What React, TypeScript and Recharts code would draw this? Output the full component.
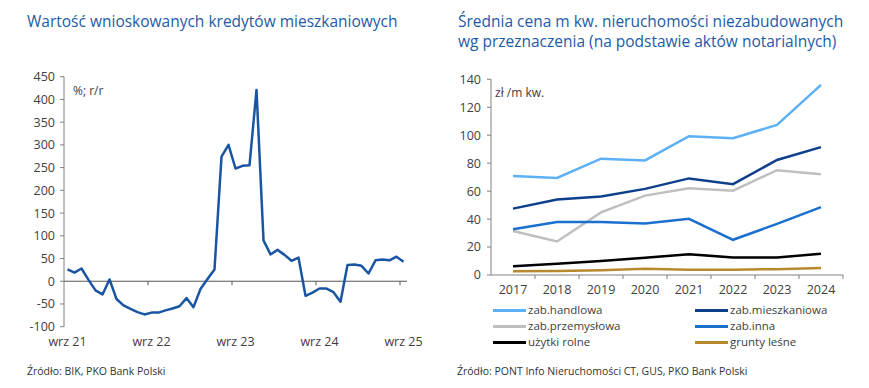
import React from 'react';
import { LineChart, Line, XAxis, YAxis, ReferenceLine } from 'recharts';

const FONT = '"Open Sans", "Noto Sans", sans-serif';
const TITLE_COLOR = '#1d5aa6';
const TEXT_COLOR = '#404040';
const AXIS_COLOR = '#808080';

// ---------- Left chart data ----------
const months = [
  'wrz 21', 'paź 21', 'lis 21', 'gru 21', 'sty 22', 'lut 22', 'mar 22', 'kwi 22', 'maj 22', 'cze 22', 'lip 22', 'sie 22',
  'wrz 22', 'paź 22', 'lis 22', 'gru 22', 'sty 23', 'lut 23', 'mar 23', 'kwi 23', 'maj 23', 'cze 23', 'lip 23', 'sie 23',
  'wrz 23', 'paź 23', 'lis 23', 'gru 23', 'sty 24', 'lut 24', 'mar 24', 'kwi 24', 'maj 24', 'cze 24', 'lip 24', 'sie 24',
  'wrz 24', 'paź 24', 'lis 24', 'gru 24', 'sty 25', 'lut 25', 'mar 25', 'kwi 25', 'maj 25', 'cze 25', 'lip 25', 'sie 25',
  'wrz 25',
];
const loanValues = [
  26, 19, 28, 3, -20, -29, 4, -39, -53, -61, -68, -73,
  -69, -69, -64, -60, -55, -37, -57, -17, 5, 26, 274, 300,
  248, 254, 255, 421, 90, 59, 69, 58, 45, 52, -32, -25,
  -16, -16, -24, -45, 36, 37, 34, 17, 46, 48, 46, 54,
  43,
];
const leftYTicks = [-100, -50, 0, 50, 100, 150, 200, 250, 300, 350, 400, 450];

// ---------- Right chart data ----------
const years = ['2017', '2018', '2019', '2020', '2021', '2022', '2023', '2024'];
const handlowa = [70.8, 69.4, 83.2, 82, 99.3, 97.8, 107.4, 136];
const mieszkaniowa = [47.5, 54, 56.2, 61.6, 69.1, 65, 82.3, 91.5];
const przemyslowa = [31.5, 24, 44.8, 56.8, 62, 60.3, 75, 72];
const inna = [32.8, 37.9, 37.9, 36.8, 40.2, 25.2, 36.6, 48.6];
const rolne = [6.2, 8.1, 10.1, 12.3, 14.9, 12.6, 12.5, 15.2];
const lesne = [2.6, 2.9, 3.4, 4.4, 3.8, 3.8, 4.2, 5];
const rightYTicks = [0, 20, 40, 60, 80, 100, 120, 140];

const rightSeries = [
  { key: 'handlowa', name: 'zab.handlowa', color: '#5cb0f5', values: handlowa },
  { key: 'mieszkaniowa', name: 'zab.mieszkaniowa', color: '#0e3f8c', values: mieszkaniowa },
  { key: 'przemyslowa', name: 'zab.przemysłowa', color: '#bfbfbf', values: przemyslowa },
  { key: 'inna', name: 'zab.inna', color: '#1b6fcf', values: inna },
  { key: 'rolne', name: 'użytki rolne', color: '#000000', values: rolne },
  { key: 'lesne', name: 'grunty leśne', color: '#b8892c', values: lesne },
];

const leftData = months.map((m, i) => ({ m, v: loanValues[i] }));
const rightData = years.map((y, i) => {
  const row: Record<string, number | string> = { y };
  rightSeries.forEach((s) => {
    row[s.key] = s.values[i];
  });
  return row;
});

// Horizontal axis line with tick marks at category boundaries
const makeAxisShape = (count: number, every: number, stroke: string, includeEnd: boolean) => (props: any) => {
  const { x1, x2, y1 } = props;
  const step = (x2 - x1) / count;
  const marks: number[] = [];
  for (let k = every; k < count; k += every) marks.push(x1 + k * step);
  if (includeEnd) marks.push(x2);
  return (
    <g>
      <line x1={x1} y1={y1} x2={x2} y2={y1} stroke={stroke} strokeWidth={1} />
      {marks.map((x, i) => (
        <line key={i} x1={x} y1={y1} x2={x} y2={y1 + 4} stroke={stroke} strokeWidth={1} />
      ))}
    </g>
  );
};

const tickStyle = { fontSize: 12.5, fill: TEXT_COLOR, fontFamily: FONT };

export default function App() {
  return (
    <div
      style={{
        position: 'absolute',
        left: 0,
        top: 0,
        width: 869,
        height: 388,
        background: '#ffffff',
        fontFamily: FONT,
        overflow: 'hidden',
      }}
    >
      {/* Titles */}
      <div
        style={{
          position: 'absolute',
          left: 27,
          top: 11,
          fontSize: 15.5,
          lineHeight: '21px',
          color: TITLE_COLOR,
          whiteSpace: 'nowrap',
        }}
      >
        Wartość wnioskowanych kredytów mieszkaniowych
      </div>
      <div
        style={{
          position: 'absolute',
          left: 458,
          top: 10.5,
          fontSize: 15.5,
          lineHeight: '20.5px',
          color: TITLE_COLOR,
          whiteSpace: 'nowrap',
        }}
      >
        Średnia cena m kw. nieruchomości niezabudowanych
        <br />
        wg przeznaczenia (na podstawie aktów notarialnych)
      </div>

      {/* Left chart */}
      <div style={{ position: 'absolute', left: 0, top: 0 }}>
        <LineChart
          width={430}
          height={388}
          data={leftData}
          margin={{ top: 76.7, right: 23, bottom: 41.3, left: 24 }}
        >
          <XAxis
            dataKey="m"
            interval={11}
            padding={{ left: 3.5, right: 3.5 }}
            axisLine={false}
            tickLine={false}
            tick={tickStyle}
            tickMargin={4}
            height={20}
          />
          <YAxis
            domain={[-100, 450]}
            ticks={leftYTicks}
            width={40}
            tickSize={4}
            tickMargin={5}
            axisLine={{ stroke: AXIS_COLOR }}
            tickLine={{ stroke: AXIS_COLOR }}
            tick={tickStyle}
            interval={0}
          />
          <ReferenceLine
            y={0}
            stroke="#555555"
            shape={makeAxisShape(months.length, 12, '#555555', false)}
          />
          <Line
            dataKey="v"
            stroke="#1a55a3"
            strokeWidth={2.5}
            dot={false}
            isAnimationActive={false}
            strokeLinejoin="round"
          />
        </LineChart>
      </div>
      <div
        style={{
          position: 'absolute',
          left: 73,
          top: 82,
          fontSize: 12,
          color: TEXT_COLOR,
          whiteSpace: 'nowrap',
        }}
      >
        %; r/r
      </div>

      {/* Right chart */}
      <div style={{ position: 'absolute', left: 440, top: 0 }}>
        <LineChart
          width={429}
          height={388}
          data={rightData}
          margin={{ top: 79.3, right: 26, bottom: 93, left: 15 }}
        >
          <XAxis
            dataKey="y"
            interval={0}
            padding={{ left: 22, right: 22 }}
            axisLine={false}
            tickLine={false}
            tick={tickStyle}
            tickMargin={4}
            height={20}
          />
          <YAxis
            domain={[0, 140]}
            ticks={rightYTicks}
            width={36}
            tickSize={4}
            tickMargin={6}
            axisLine={{ stroke: AXIS_COLOR }}
            tickLine={{ stroke: AXIS_COLOR }}
            tick={tickStyle}
            interval={0}
          />
          <ReferenceLine
            y={0}
            stroke={AXIS_COLOR}
            shape={makeAxisShape(years.length, 1, AXIS_COLOR, true)}
          />
          {rightSeries.map((s) => (
            <Line
              key={s.key}
              dataKey={s.key}
              name={s.name}
              stroke={s.color}
              strokeWidth={2.5}
              dot={false}
              isAnimationActive={false}
            />
          ))}
        </LineChart>
      </div>
      <div
        style={{
          position: 'absolute',
          left: 495,
          top: 84,
          fontSize: 12,
          color: TEXT_COLOR,
          whiteSpace: 'nowrap',
        }}
      >
        zł /m kw.
      </div>

      {/* Right legend */}
      {rightSeries.map((s, i) => {
        const col = i % 2;
        const row = Math.floor(i / 2);
        const left = col === 0 ? 493 : 695;
        const cy = 310 + row * 16;
        return (
          <div
            key={s.key}
            style={{
              position: 'absolute',
              left,
              top: cy - 7,
              height: 14,
              lineHeight: '14px',
              display: 'flex',
              alignItems: 'center',
              whiteSpace: 'nowrap',
              fontSize: 11.5,
              color: TEXT_COLOR,
            }}
          >
            <span
              style={{
                display: 'inline-block',
                width: 33,
                height: 3,
                background: s.color,
                marginRight: 2,
              }}
            />
            <span style={{ lineHeight: '14px' }}>{s.name}</span>
          </div>
        );
      })}

      {/* Sources */}
      <div
        style={{
          position: 'absolute',
          left: 27,
          top: 364,
          fontSize: 10.5,
          color: '#333333',
          whiteSpace: 'nowrap',
        }}
      >
        Źródło: BIK, PKO Bank Polski
      </div>
      <div
        style={{
          position: 'absolute',
          left: 457,
          top: 364,
          fontSize: 10.5,
          color: '#333333',
          whiteSpace: 'nowrap',
        }}
      >
        Źródło: PONT Info Nieruchomości CT, GUS, PKO Bank Polski
      </div>
    </div>
  );
}
